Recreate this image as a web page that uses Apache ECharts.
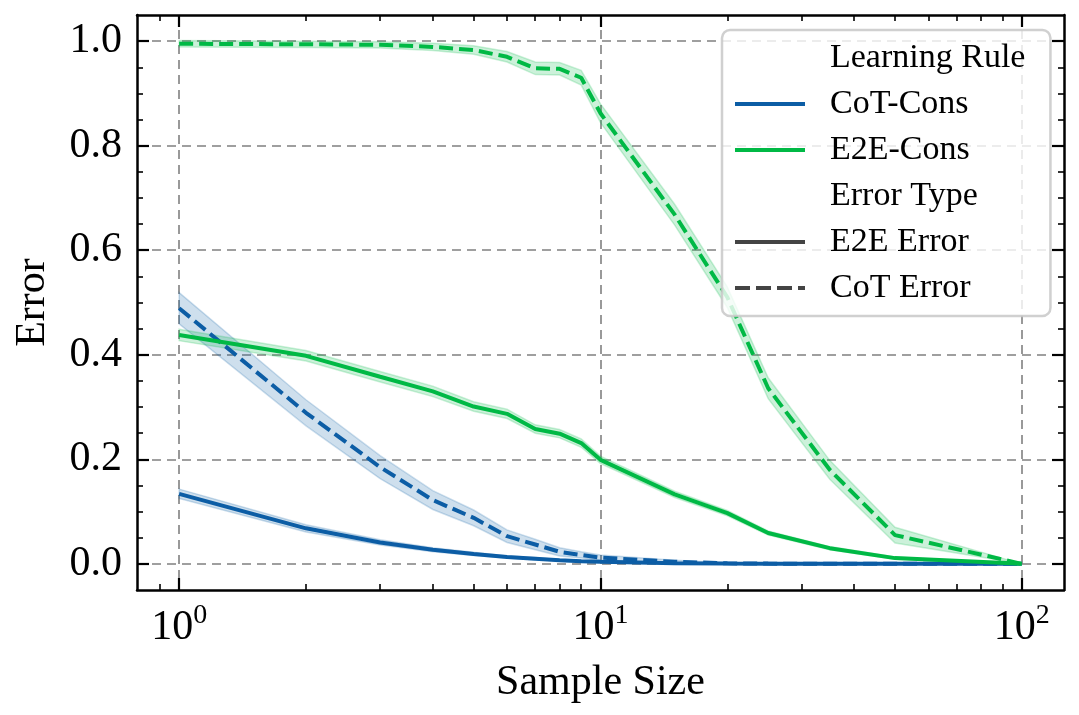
<!DOCTYPE html>
<html><head><meta charset="utf-8">
<script src="https://cdn.jsdelivr.net/npm/echarts@6/dist/echarts.min.js"></script>
<style>html,body{margin:0;padding:0;background:#fff}#c{width:1079px;height:715px}</style>
</head><body><div id="c"></div>
<script>
// ---- data ----
const sampleSizes = [1, 2, 3, 4, 5, 6, 7, 8, 9, 10, 15, 20, 25, 35, 50, 100];

const cotConsE2E     = [0.134, 0.068, 0.041, 0.027, 0.019, 0.013, 0.010, 0.007, 0.005, 0.004, 0.001, 0.0005, 0.0003, 0.0002, 0.0001, 0.0];
const cotConsE2EHalf = [0.009, 0.007, 0.005, 0.004, 0.003, 0.002, 0.002, 0.001, 0.001, 0.001, 0.0005, 0.0, 0.0, 0.0, 0.0, 0.0];

const cotConsCoT     = [0.489, 0.289, 0.185, 0.122, 0.088, 0.053, 0.037, 0.023, 0.017, 0.012, 0.004, 0.001, 0.0005, 0.0002, 0.0001, 0.0];
const cotConsCoTHalf = [0.030, 0.025, 0.022, 0.018, 0.015, 0.012, 0.010, 0.008, 0.006, 0.005, 0.003, 0.001, 0.0005, 0.0002, 0.0001, 0.0];

const e2eConsE2E     = [0.438, 0.398, 0.358, 0.330, 0.301, 0.287, 0.258, 0.249, 0.231, 0.199, 0.133, 0.097, 0.059, 0.030, 0.011, 0.0];
const e2eConsE2EHalf = [0.011, 0.010, 0.010, 0.010, 0.009, 0.009, 0.008, 0.008, 0.008, 0.007, 0.006, 0.005, 0.004, 0.003, 0.002, 0.0];

const e2eConsCoT     = [0.995, 0.994, 0.993, 0.989, 0.983, 0.970, 0.948, 0.947, 0.930, 0.862, 0.668, 0.510, 0.336, 0.180, 0.055, 0.0];
const e2eConsCoTHalf = [0.006, 0.006, 0.006, 0.007, 0.008, 0.010, 0.012, 0.012, 0.014, 0.018, 0.020, 0.020, 0.020, 0.018, 0.015, 0.0];

const xMajorTicks = [1, 10, 100];
const xMinorTicks = [0.9, 2, 3, 4, 5, 6, 7, 8, 9, 20, 30, 40, 50, 60, 70, 80, 90];
const yMajorTicks = [0, 0.2, 0.4, 0.6, 0.8, 1.0];
const yMinorTicks = [0.05, 0.1, 0.15, 0.25, 0.3, 0.35, 0.45, 0.5, 0.55, 0.65, 0.7, 0.75, 0.85, 0.9, 0.95, 1.0];

const legendNames = ['Learning Rule', 'CoT-Cons', 'E2E-Cons', 'Error Type', 'E2E Error', 'CoT Error'];

// ---- styling ----
const FONT = "'Liberation Serif', 'Times New Roman', serif";
const BLUE = '#0C5DA5', GREEN = '#00B945', GRAY = '#444444';
const BLUE_BAND = 'rgba(12,93,165,0.20)', GREEN_BAND = 'rgba(0,185,69,0.20)';
const XMIN = Math.pow(10, -0.1), XMAX = Math.pow(10, 2.1);
const YMIN = -0.05, YMAX = 1.05;
const DASH = [14, 6];

function xAxisDef(pos, ticks, len, major) {
  return {
    type: 'log', logBase: 10, min: XMIN, max: XMAX, position: pos, gridIndex: 0,
    axisLine: { show: major, onZero: false, lineStyle: { color: '#000', width: 2.5 } },
    axisTick: { show: true, inside: true, length: len, customValues: ticks,
                lineStyle: { color: '#000', width: major ? 2.2 : 1.6 } },
    axisLabel: (pos === 'bottom' && major) ? {
      show: true, customValues: ticks, margin: 12,
      formatter: v => '{b|10}{s|' + Math.round(Math.log10(v)) + '}',
      rich: {
        b: { fontFamily: FONT, fontSize: 42, color: '#000' },
        s: { fontFamily: FONT, fontSize: 28, color: '#000', padding: [0, 0, 24, 0] }
      }
    } : { show: false },
    splitLine: (pos === 'bottom' && major) ? { show: true, lineStyle: { color: '#808080', width: 1.6, type: [9, 6] } } : { show: false },
    minorTick: { show: false },
    name: (pos === 'bottom' && major) ? 'Sample Size' : '',
    nameLocation: 'middle', nameGap: 72,
    nameTextStyle: { fontFamily: FONT, fontSize: 42, color: '#000' }
  };
}
function yAxisDef(pos, ticks, len, major) {
  return {
    type: 'value', min: YMIN, max: YMAX, position: pos, gridIndex: 0,
    axisLine: { show: major, onZero: false, lineStyle: { color: '#000', width: 2.5 } },
    axisTick: { show: true, inside: true, length: len, customValues: ticks,
                lineStyle: { color: '#000', width: major ? 2.2 : 1.6 } },
    axisLabel: (pos === 'left' && major) ? {
      show: true, customValues: ticks, margin: 15,
      fontFamily: FONT, fontSize: 42, color: '#000',
      formatter: v => v.toFixed(1)
    } : { show: false },
    splitLine: (pos === 'left' && major) ? { show: true, lineStyle: { color: '#808080', width: 1.6, type: [9, 6] } } : { show: false },
    name: (pos === 'left' && major) ? 'Error' : '',
    nameLocation: 'middle', nameGap: 83, nameRotate: 90,
    nameTextStyle: { fontFamily: FONT, fontSize: 42, color: '#000' }
  };
}

function band(mean, half, fill) {
  return {
    type: 'custom', xAxisIndex: 0, yAxisIndex: 0, silent: true, z: 1,
    data: sampleSizes.map((x, i) => [x, mean[i] - half[i], mean[i] + half[i]]),
    encode: { x: 0, y: [1, 2] },
    renderItem: (params, api) => {
      if (params.dataIndex !== 0) return;
      const up = [], lo = [];
      for (let i = 0; i < sampleSizes.length; i++) {
        up.push(api.coord([sampleSizes[i], mean[i] + half[i]]));
        lo.push(api.coord([sampleSizes[i], mean[i] - half[i]]));
      }
      return { type: 'polygon', shape: { points: up.concat(lo.reverse()) },
               style: { fill: fill, stroke: fill, lineWidth: 1.5 } };
    }
  };
}
function line(name, vals, color, dashed) {
  return {
    name: name, type: 'line', xAxisIndex: 0, yAxisIndex: 0, z: 3,
    data: sampleSizes.map((x, i) => [x, vals[i]]),
    symbol: 'none', silent: true, animation: false,
    lineStyle: { color: color, width: 4, type: dashed ? DASH : 'solid', cap: 'butt' }
  };
}
function legendDummy(name, color, dashed) {
  return {
    name: name, type: 'line', data: [], xAxisIndex: 0, yAxisIndex: 0, symbol: 'none',
    itemStyle: { color: color },
    lineStyle: { color: color, width: 4, type: dashed ? [15, 6] : 'solid' }
  };
}

const chart = echarts.init(document.getElementById('c'), null, { renderer: 'canvas' });
chart.setOption({
  animation: false,
  backgroundColor: '#fff',
  grid: { left: 137, right: 15, top: 15, bottom: 125, containLabel: false },
  xAxis: [
    xAxisDef('bottom', xMajorTicks, 12, true),
    xAxisDef('bottom', xMinorTicks, 6, false),
    xAxisDef('top', xMajorTicks, 12, true),
    xAxisDef('top', xMinorTicks, 6, false)
  ],
  yAxis: [
    yAxisDef('left', yMajorTicks, 12, true),
    yAxisDef('left', yMinorTicks, 6, false),
    yAxisDef('right', yMajorTicks, 12, true),
    yAxisDef('right', yMinorTicks, 6, false)
  ],
  legend: {
    data: legendNames, orient: 'vertical', left: 722, top: 30,
    selectedMode: false,
    padding: [10, 25, 10, 11],
    itemWidth: 70, itemHeight: 14, itemGap: 10,
    itemStyle: { opacity: 0, borderWidth: 0 },
    lineStyle: { width: 4 },
    backgroundColor: 'rgba(255,255,255,0.8)',
    borderColor: 'rgba(200,200,200,0.85)', borderWidth: 2.5, borderRadius: 8,
    textStyle: { fontFamily: FONT, fontSize: 34, color: '#000', lineHeight: 36, padding: [0, 0, 0, 20] },
    z: 10
  },
  series: [
    band(cotConsE2E, cotConsE2EHalf, BLUE_BAND),
    band(cotConsCoT, cotConsCoTHalf, BLUE_BAND),
    band(e2eConsE2E, e2eConsE2EHalf, GREEN_BAND),
    band(e2eConsCoT, e2eConsCoTHalf, GREEN_BAND),
    line('cot-e2e', cotConsE2E, BLUE, false),
    line('cot-cot', cotConsCoT, BLUE, true),
    line('e2e-e2e', e2eConsE2E, GREEN, false),
    line('e2e-cot', e2eConsCoT, GREEN, true),
    legendDummy('Learning Rule', 'rgba(0,0,0,0)', false),
    legendDummy('CoT-Cons', BLUE, false),
    legendDummy('E2E-Cons', GREEN, false),
    legendDummy('Error Type', 'rgba(0,0,0,0)', false),
    legendDummy('E2E Error', GRAY, false),
    legendDummy('CoT Error', GRAY, true)
  ]
});
</script></body></html>
